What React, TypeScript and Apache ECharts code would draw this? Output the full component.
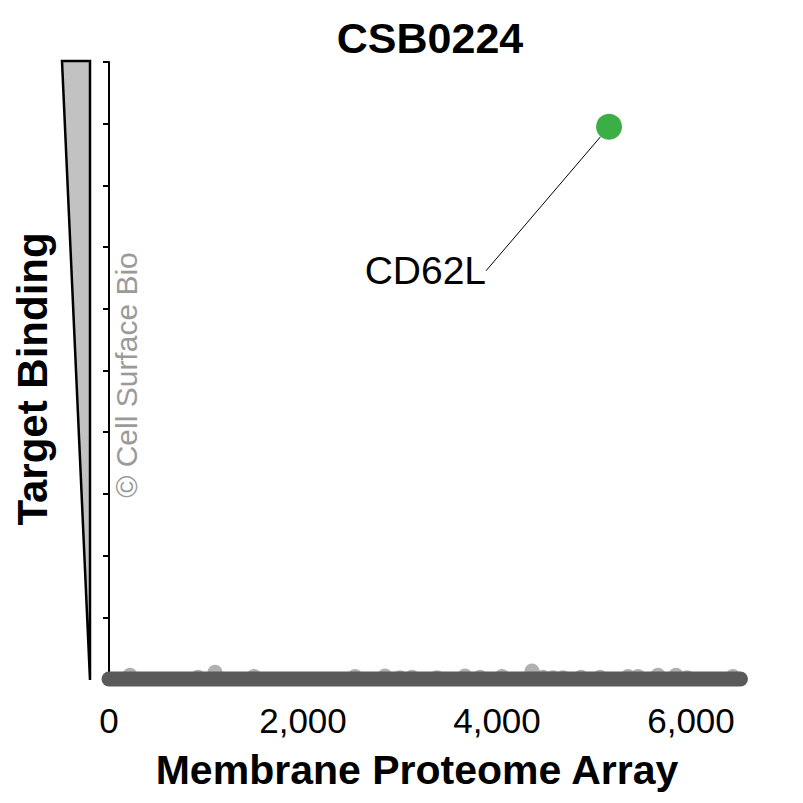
import React, { useEffect, useRef } from "react";
import * as echarts from "echarts";

const chartTitle = "CSB0224";
const xAxisTitle = "Membrane Proteome Array";
const yAxisTitle = "Target Binding";
const watermark = "© Cell Surface Bio";

const xTickValues = [0, 2000, 4000, 6000];
const xMin = 0;
const xMax = 6600;
const yMin = 0;
const yMax = 10;
const yInterval = 1;

// dense band of non-binding targets (thousands of points at ~0)
const baselineBand: [number, number][] = [
  [0, 0],
  [6510, 0],
];

// targets slightly above the baseline
const lowBinders: [number, number][] = [
  [216, 0.06], [918, 0.03], [1093, 0.11], [1495, 0.04], [2536, 0.04],
  [2845, 0.05], [3000, 0.02], [3124, 0.03], [3381, 0.02], [3670, 0.05],
  [3825, 0.03], [4052, 0.04], [4361, 0.13], [4474, 0.03], [4577, 0.02],
  [4680, 0.02], [4866, 0.03], [5062, 0.03], [5351, 0.04], [5454, 0.04],
  [5660, 0.06], [5845, 0.06], [5959, 0.02], [6433, 0.04],
];

const hitNames = ["CD62L"];
const hitValues: [number, number][] = [[5155, 8.95]];

const FONT = "'Liberation Sans', Arial, sans-serif";

export default function App() {
  const ref = useRef<HTMLDivElement>(null);

  useEffect(() => {
    if (!ref.current) return;
    const chart = echarts.init(ref.current, null, { renderer: "svg" });
    const option: any = {
      animation: false,
      backgroundColor: "#ffffff",
      textStyle: { fontFamily: FONT },
      grid: { left: 109, top: 62, bottom: 124, right: 803 - 109 - (xMax - xMin) * 0.097 },
      xAxis: {
        type: "value",
        min: xMin,
        max: xMax,
        offset: 7,
        axisLine: { show: false },
        splitLine: { show: false },
        axisTick: {
          show: true,
          customValues: xTickValues,
          length: 5,
          lineStyle: { color: "#000", width: 1 },
        },
        axisLabel: {
          customValues: xTickValues,
          formatter: (v: number) => v.toLocaleString("en-US"),
          fontSize: 35,
          color: "#000",
          margin: 17,
          fontFamily: FONT,
        },
      },
      yAxis: {
        type: "value",
        min: yMin,
        max: yMax,
        interval: yInterval,
        axisLine: { show: true, lineStyle: { color: "#000", width: 2 } },
        axisTick: { show: true, length: 6, lineStyle: { color: "#000", width: 2 } },
        axisLabel: { show: false },
        splitLine: { show: false },
      },
      graphic: [
        {
          type: "polygon",
          shape: { points: [[62, 61], [90, 61], [90, 680]] },
          style: { fill: "#c2c2c2", stroke: "#000", lineWidth: 2.5 },
          z: 10,
        },
        {
          type: "text",
          x: 430,
          y: 38,
          style: {
            text: chartTitle,
            fontSize: 43,
            fontWeight: "bold",
            fontFamily: FONT,
            fill: "#000",
            align: "center",
            verticalAlign: "middle",
          },
        },
        {
          type: "text",
          x: 417,
          y: 770,
          style: {
            text: xAxisTitle,
            fontSize: 41,
            fontWeight: "bold",
            fontFamily: FONT,
            fill: "#000",
            align: "center",
            verticalAlign: "middle",
          },
        },
        {
          type: "text",
          x: 32,
          y: 379,
          rotation: Math.PI / 2,
          style: {
            text: yAxisTitle,
            fontSize: 42,
            fontWeight: "bold",
            fontFamily: FONT,
            fill: "#000",
            align: "center",
            verticalAlign: "middle",
          },
        },
        {
          type: "text",
          x: 126,
          y: 375,
          rotation: Math.PI / 2,
          style: {
            text: watermark,
            fontSize: 30,
            fontFamily: FONT,
            fill: "#9a9a9a",
            align: "center",
            verticalAlign: "middle",
          },
        },
      ],
      series: [
        {
          type: "scatter",
          data: lowBinders,
          symbolSize: 15,
          clip: false,
          itemStyle: { color: "#a2a2a2", opacity: 0.85 },
          z: 2,
        },
        {
          type: "line",
          data: baselineBand,
          symbol: "none",
          clip: false,
          lineStyle: { color: "#5a5a5a", width: 15, cap: "round" },
          z: 3,
        },
        {
          type: "scatter",
          data: hitValues.map((v, i) => ({ value: v, name: hitNames[i] })),
          symbolSize: 26,
          clip: false,
          itemStyle: { color: "#3bae45", opacity: 1 },
          label: {
            show: true,
            formatter: (p: any) => p.name,
            position: "left",
            distance: 5,
            fontSize: 39,
            color: "#000",
            opacity: 1,
            fontFamily: FONT,
          },
          labelLayout: { dx: -105, dy: 144 },
          labelLine: { show: true, lineStyle: { color: "#000", width: 1, opacity: 1 } },
          z: 4,
        },
      ],
    };
    chart.setOption(option);
    return () => chart.dispose();
  }, []);

  return (
    <div
      ref={ref}
      style={{ position: "fixed", left: 0, top: 0, width: 803, height: 803 }}
    />
  );
}
